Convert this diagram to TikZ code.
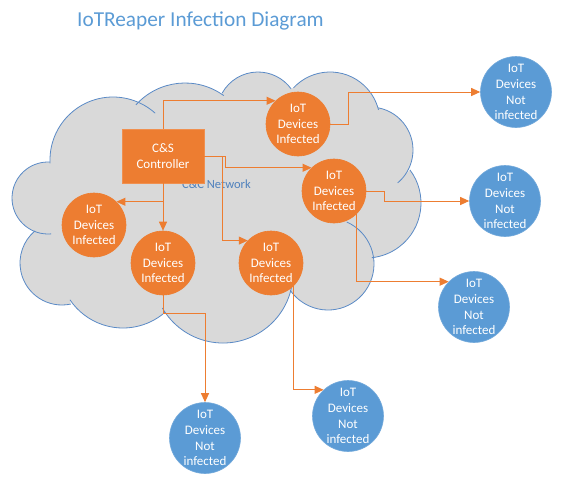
\documentclass[tikz,border=0pt]{standalone}
\usepackage{fontspec}
\setmainfont{Carlito}
\usetikzlibrary{arrows.meta,calc}
\definecolor{orng}{HTML}{ED7D31}
\definecolor{blu}{HTML}{5B9BD5}
\definecolor{cloudgray}{HTML}{D9D9D9}
\definecolor{cloudline}{HTML}{5A8AC6}
\definecolor{titleblue}{HTML}{5B9BD5}
\definecolor{netblue}{HTML}{4F81BD}
\tikzset{
  inf/.style={circle, fill=orng, draw=orng, line width=0.6pt, minimum size=64pt, inner sep=0pt, text=white, align=center, font=\fontsize{13}{15.5}\selectfont},
  notinf/.style={circle, fill=blu, draw=blu!85!white, line width=0.6pt, minimum size=71pt, inner sep=0pt, text=white, align=center, font=\fontsize{13}{15.8}\selectfont},
  ctrl/.style={rectangle, fill=orng, draw=orng!85!white, line width=0.8pt, minimum width=82pt, minimum height=54pt, inner sep=0pt, text=white, align=center, font=\fontsize{13}{15.5}\selectfont},
  conn/.style={draw=orng, line width=1pt, line join=miter, -{Triangle[length=9pt,width=8pt]}},
  cloudedge/.style={draw=cloudline, line width=0.8pt}
}
\begin{document}
\begin{tikzpicture}[x=1pt,y=-1pt]
\useasboundingbox (0,0) rectangle (581,483);
% cloud fill
\fill[cloudgray] ($(48,198)+(85:36)$)
  \foreach \cx/\cy/\r/\a/\b in {48/198/36/85/273, 113/160/63/177/312, 185/149/66/222/306, 258/113/41/209/324, 330/122/50/223/346, 370/150/43/281/410, 366/203/55/323/444, 328/264/46/294/505, 223/273/70/12/150, 123/264/64/49/146, 62/263/42/78/230}
  { -- ($(\cx,\cy)+(\a:\r)$) arc[start angle=\a, end angle=\b, radius=\r] } -- cycle;
% cloud outline
\foreach \cx/\cy/\r/\a/\b in {48/198/36/85/273, 113/160/63/177/312, 185/149/66/222/306, 258/113/41/209/324, 330/122/50/223/346, 370/150/43/281/410, 366/203/55/323/444, 328/264/46/294/505, 223/273/70/12/150, 123/264/64/49/146, 62/263/42/78/230}
  { \draw[cloudedge] ($(\cx,\cy)+(\a:\r)$) arc[start angle=\a, end angle=\b, radius=\r]; }

\node[anchor=base west, inner sep=0pt, text=titleblue, font=\fontsize{21.3}{25}\selectfont] (title) at (77,26) {IoTReaper Infection Diagram};
\node[inner sep=0pt, text=netblue, font=\fontsize{12.5}{15}\selectfont] (net) at (216.5,184) {C\&C Network};

\node[ctrl] (box) at (163,156) {C\&S\\Controller};
\node[inf] (c1) at (298,124) {IoT\\Devices\\Infected};
\node[inf] (c2) at (334,191) {IoT\\Devices\\Infected};
\node[inf] (c3) at (271,263) {IoT\\Devices\\Infected};
\node[inf] (c4) at (163,263) {IoT\\Devices\\Infected};
\node[inf] (c5) at (94,225) {IoT\\Devices\\Infected};

\node[notinf] (b1) at (516,92) {IoT\\Devices\\Not\\infected};
\node[notinf] (b2) at (505,201) {IoT\\Devices\\Not\\infected};
\node[notinf] (b3) at (474,307) {IoT\\Devices\\Not\\infected};
\node[notinf] (b4) at (348,416) {IoT\\Devices\\Not\\infected};
\node[notinf] (b5) at (205,438) {IoT\\Devices\\Not\\infected};

\draw[conn] (box.north) |- (c1.134);
\draw[conn] (c1.east) -- ++(18,0) |- (b1);
\draw[conn] (box.east) -- ++(21,0) |- (c2.134);
\draw[conn] (box.east) -- ++(18,0) |- (c3.136);
\draw[conn] (box.south) -- (c4);
\draw[conn] (box.south) |- (c5.46);
\draw[conn] (c2.east) -- ++(18,0) |- (b2);
\draw[conn] (c2.-46) |- (b3.135);
\draw[conn] (c3.-46) |- (b4.133);
\draw[conn] (c4.south) -- ++(0,18) -| (b5);
\end{tikzpicture}
\end{document}
